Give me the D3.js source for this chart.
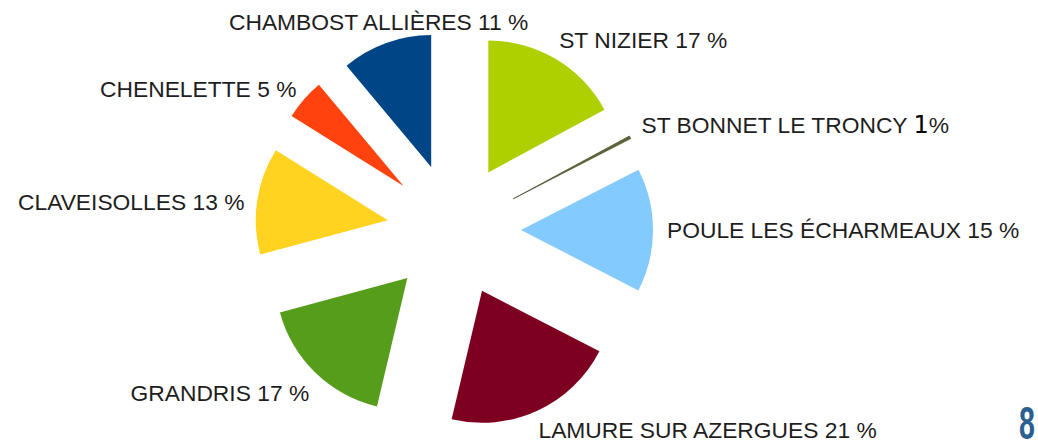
<!DOCTYPE html>
<html>
<head>
<meta charset="utf-8">
<script src="https://cdn.jsdelivr.net/npm/d3@7"></script>
<style>
  html, body { margin: 0; padding: 0; background: #ffffff; }
  svg { display: block; }
</style>
</head>
<body>
<script>
// ---- data ----
const categories = ["CHAMBOST ALLIÈRES", "CHENELETTE", "CLAVEISOLLES", "GRANDRIS",
                    "LAMURE SUR AZERGUES", "POULE LES ÉCHARMEAUX", "ST BONNET LE TRONCY", "ST NIZIER"];
const values = [11, 5, 13, 17, 21, 15, 0.35, 17];
const percentLabels = ["11", "5", "13", "17", "21", "15", "1", "17"];
const colors = ["#004586", "#ff420e", "#ffd320", "#579d1c", "#7e0021", "#83caff", "#314004", "#aecf00"];
const pageNumber = "8";

// ---- layout ----
const W = 1038, H = 442;
const cx = 454, cy = 230, R = 132, explode = 67, labelR = 221;

const svg = d3.select("body").append("svg").attr("width", W).attr("height", H);

const pie = d3.pie().sort(null).value(d => d.v).startAngle(0).endAngle(-2 * Math.PI);
const data = categories.map((c, i) => ({ c, v: values[i], p: percentLabels[i], col: colors[i] }));
const arcs = pie(data);
const arc = d3.arc().innerRadius(0).outerRadius(R);

const g = svg.append("g").attr("transform", `translate(${cx},${cy})`);

arcs.forEach(a => {
  const mid = (a.startAngle + a.endAngle) / 2;
  const ox = explode * Math.sin(mid), oy = -explode * Math.cos(mid);
  const thin = (Math.abs(a.endAngle - a.startAngle) < 0.05);
  g.append("path")
    .attr("d", arc(a))
    .attr("transform", `translate(${ox},${oy})`)
    .attr("fill", a.data.col)
    .attr("fill-opacity", thin ? 0.8 : 1)
    .attr("stroke", thin ? "#4a5030" : "none")
    .attr("stroke-width", thin ? 0.7 : 0);

  // label
  const s = Math.sin(mid), c = -Math.cos(mid);
  let lx = labelR * s, ly = labelR * c;
  let anchor = "middle";
  if (Math.abs(s) >= 0.36) {
    anchor = s > 0 ? "start" : "end";
    lx += s > 0 ? -8 : 9;
    if (s < 0) ly += 4;
    else if (c < -0.3 && c > -0.6) ly -= 2;
  }
  ly = Math.min(ly, 199.5);
  const t = g.append("text")
    .attr("x", lx).attr("y", ly)
    .attr("dy", "0.36em")
    .attr("text-anchor", anchor)
    .attr("font-family", "'Liberation Sans', Arial, sans-serif")
    .attr("font-size", 22.8)
    .attr("fill", "#1e1e1e");
  t.append("tspan").text(a.data.c + " ");
  const edited = a.data.c === "ST BONNET LE TRONCY";
  const num = t.append("tspan").text(a.data.p);
  if (edited) num.attr("font-family", "'DejaVu Sans', sans-serif").attr("font-size", 24).attr("fill", "#000");
  t.append("tspan").text(edited ? "%" : " %");
});

// page number
svg.append("text")
  .attr("transform", `translate(1027,439) scale(0.62,1)`)
  .attr("text-anchor", "middle")
  .attr("font-family", "'Liberation Sans Narrow', 'Liberation Sans', sans-serif")
  .attr("font-weight", "bold")
  .attr("font-size", 46)
  .attr("fill", "#2a5f90")
  .text(pageNumber);
</script>
</body>
</html>
